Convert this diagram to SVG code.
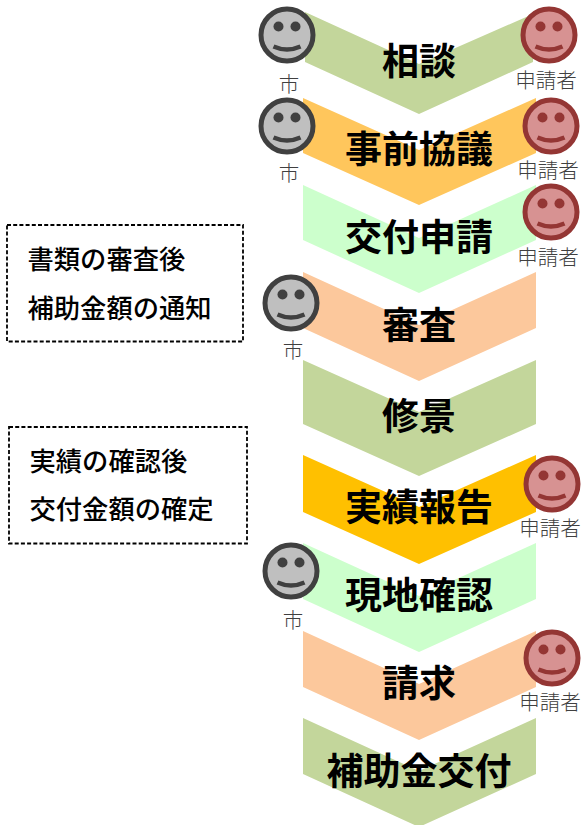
<svg xmlns="http://www.w3.org/2000/svg" width="584" height="825" viewBox="0 0 584 825">
<style>
text{font-family:"Noto Sans CJK JP","Noto Sans CJK SC",sans-serif;text-anchor:middle}
.t{font-size:37px;font-weight:700;fill:#000}
.l{font-size:20.500px;font-weight:300;fill:#404040}
.n{font-size:26.300px;font-weight:500;fill:#000;text-anchor:start}
.b{fill:none;stroke:#000;stroke-width:1.800;stroke-dasharray:4 2.200}
.g{--f:#bfbfbf;--s:#404040}
.r{--f:#d79292;--s:#943634}
.o{fill:var(--f);stroke:var(--s);stroke-width:5}
.d{fill:var(--s)}
.m{fill:none;stroke:var(--s);stroke-width:4.500}
</style>
<defs>
<g id="face">
<circle class="o" r="26"/>
<circle class="d" cx="-8.500" cy="-8.500" r="5"/>
<circle class="d" cx="8.500" cy="-8.500" r="5"/>
<path class="m" d="M-13.500 11.500Q0 17.500 13.500 11.500"/>
</g>
</defs>
<g id="n1"><path fill="#c3d69b" d="M305 12L419 64L533 14V62L419 114L305 62Z"/><text class="t" x="419" y="75">相談</text></g>
<g id="n2"><path fill="#ffc65c" d="M303 98L419 150L536 98V153L419 205L303 153Z"/><text class="t" x="419" y="163">事前協議</text></g>
<g id="n3"><path fill="#ccffcc" d="M303 185L419 238L536 185V240L419 293L303 240Z"/><text class="t" x="419" y="251">交付申請</text></g>
<g id="n4"><path fill="#fcc89c" d="M303 272L419 325L536 272V328L419 381L303 328Z"/><text class="t" x="419" y="339">審査</text></g>
<g id="n5"><path fill="#c3d69b" d="M303 360L419 412L536 360V424L419 476L303 424Z"/><text class="t" x="419" y="430">修景</text></g>
<g id="n6"><path fill="#ffc000" d="M303 455L419 507L536 455V512L419 564L303 512Z"/><text class="t" x="419" y="521">実績報告</text></g>
<g id="n7"><path fill="#ccffcc" d="M303 543L419 596L536 543V599L419 652L303 599Z"/><text class="t" x="419" y="609">現地確認</text></g>
<g id="n8"><path fill="#fcc89c" d="M303 631L419 684L536 631V687L419 740L303 687Z"/><text class="t" x="419" y="697">請求</text></g>
<g id="n9"><path fill="#c3d69b" d="M303 718L419 771L536 718V774L419 827L303 774Z"/><text class="t" x="419" y="785">補助金交付</text></g>
<g id="p1" class="g"><use href="#face" x="287" y="35"/><text class="l" x="289" y="92">市</text></g>
<g id="p2" class="r"><use href="#face" x="549" y="35"/><text class="l" x="546" y="88">申請者</text></g>
<g id="p3" class="g"><use href="#face" x="287" y="126"/><text class="l" x="289" y="181">市</text></g>
<g id="p4" class="r"><use href="#face" x="551" y="126"/><text class="l" x="548" y="178">申請者</text></g>
<g id="p5" class="r"><use href="#face" x="551" y="212"/><text class="l" x="548" y="265">申請者</text></g>
<g id="p6" class="g"><use href="#face" x="291" y="303"/><text class="l" x="293" y="358">市</text></g>
<g id="p7" class="r"><use href="#face" x="552" y="484"/><text class="l" x="550" y="536">申請者</text></g>
<g id="p8" class="g"><use href="#face" x="291" y="571"/><text class="l" x="293" y="628">市</text></g>
<g id="p9" class="r"><use href="#face" x="552" y="658"/><text class="l" x="550" y="710">申請者</text></g>
<g id="note1"><rect class="b" x="7" y="225" width="236" height="116.500"/><text class="n" x="27.500" y="269">書類の審査後</text><text class="n" x="27.500" y="318">補助金額の通知</text></g>
<g id="note2"><rect class="b" x="9" y="427" width="238" height="116.500"/><text class="n" x="29.500" y="471">実績の確認後</text><text class="n" x="29.500" y="519">交付金額の確定</text></g>
</svg>
